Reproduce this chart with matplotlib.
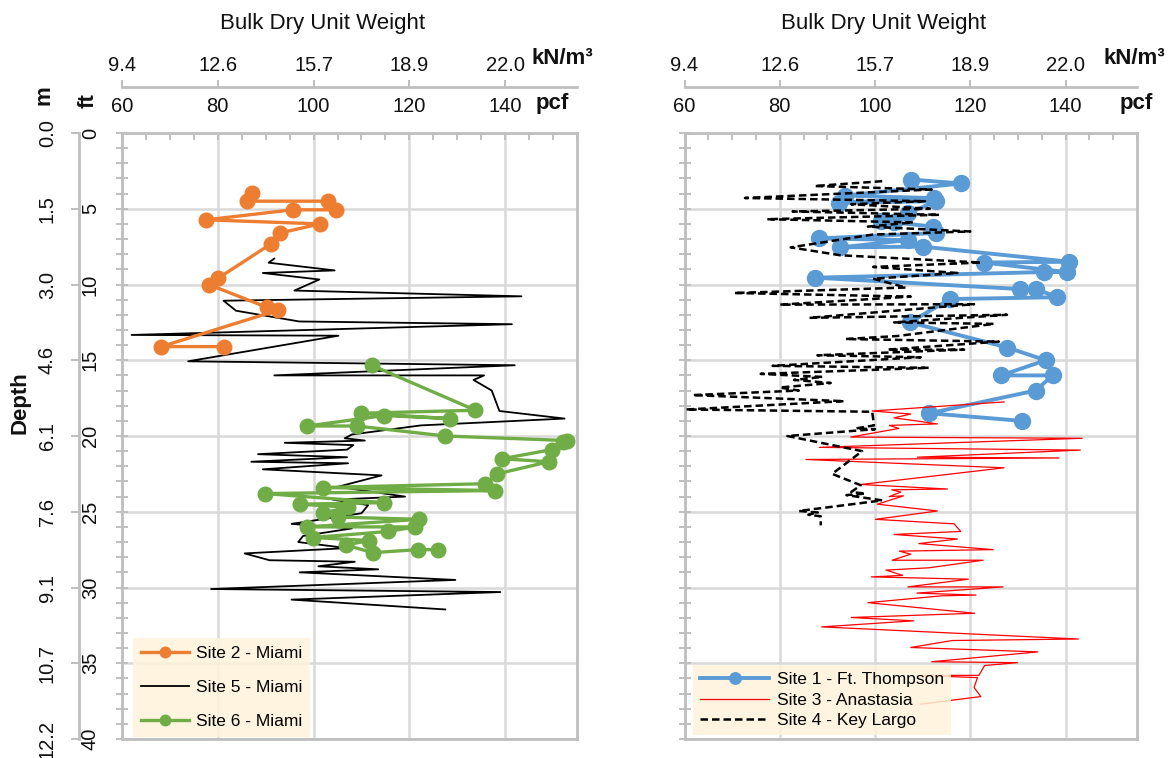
import matplotlib
matplotlib.use("Agg")
import matplotlib.pyplot as plt
from matplotlib.ticker import FixedLocator, MultipleLocator, NullLocator

# ---------------------------------------------------------------- data
pcf_ticks = [60, 80, 100, 120, 140]
kn_labels = ["9.4", "12.6", "15.7", "18.9", "22.0"]
ft_ticks = [0, 5, 10, 15, 20, 25, 30, 35, 40]
m_labels = ["0.0", "1.5", "3.0", "4.6", "6.1", "7.6", "9.1", "10.7", "12.2"]

# Site 2 - Miami (bulk dry unit weight in pcf vs depth in ft)
site2_pcf = [87.2, 86.1, 103.0, 104.6, 95.6, 77.6, 101.3, 93.0, 91.2, 80.0,
             78.1, 90.2, 92.5, 68.2, 81.4]
site2_ft = [3.96, 4.5, 4.5, 5.07, 5.07, 5.73, 6.0, 6.6, 7.3, 9.6,
            10.0, 11.5, 11.7, 14.1, 14.1]

# Site 5 - Miami
site5_pcf = [91.8, 90.6, 104.4, 89.4, 101.2, 96.0, 143.4, 81.2, 83.8, 97.0,
             141.4, 62.0, 105.2, 73.8, 142.0, 91.8, 135.6, 133.4, 137.2, 138.8,
             152.4, 122.4, 108.0, 106.5, 110.7, 94.0, 108.3, 107.0, 88.4, 107.0,
             87.0, 107.2, 89.4, 114.2, 105.1, 119.1, 104.0, 111.4, 110.0, 95.4,
             108.0, 97.8, 96.8, 107.0, 85.6, 90.8, 108.6, 101.0, 113.5, 97.1,
             129.6, 78.6, 139.0, 95.4, 127.5]
site5_ft = [8.29, 8.56, 9.07, 9.24, 9.67, 10.4, 10.78, 11.07, 11.73, 12.44,
            12.62, 13.33, 13.38, 15.07, 15.33, 16.0, 16.0, 16.3, 17.0, 18.35,
            18.85, 19.3, 19.9, 20.15, 20.3, 20.45, 20.6, 20.9, 21.2, 21.4,
            21.7, 21.8, 22.2, 22.6, 23.35, 24.0, 24.2, 24.56, 25.1, 25.8,
            26.1, 26.6, 27.0, 27.4, 27.75, 28.2, 28.3, 28.6, 28.8, 29.0,
            29.5, 30.1, 30.3, 30.8, 31.45]

# Site 6 - Miami
site6_pcf = [112.1, 133.8, 109.8, 128.4, 114.8, 98.7, 109.0, 127.5, 152.9, 152.1,
             149.7, 139.4, 149.1, 138.3, 135.7, 101.9, 137.8, 89.9, 114.8, 97.1,
             107.1, 101.9, 105.1, 122.0, 98.7, 121.2, 115.6, 99.9, 111.6, 106.7,
             112.4, 121.8, 125.9]
site6_ft = [15.33, 18.3, 18.5, 18.85, 18.65, 19.34, 19.34, 20.0, 20.3, 20.4,
            20.9, 21.5, 21.7, 22.5, 23.15, 23.4, 23.6, 23.8, 24.4, 24.5,
            24.7, 25.1, 25.35, 25.5, 26.0, 26.0, 26.3, 26.7, 26.9, 27.2,
            27.7, 27.5, 27.5]

# Site 1 - Ft. Thompson
site1_pcf = [107.5, 118.1, 93.7, 112.3, 92.5, 112.9, 106.9, 101.2, 104.0, 112.2,
             112.7, 88.2, 106.9, 92.7, 110.0, 140.8, 122.9, 140.2, 135.4, 87.5,
             130.4, 133.8, 138.3, 115.8, 107.3, 127.8, 135.8, 126.5, 137.3, 133.7,
             111.4, 130.8]
site1_ft = [3.07, 3.33, 4.13, 4.3, 4.6, 4.5, 5.3, 5.84, 5.9, 6.18,
            6.6, 6.96, 7.07, 7.55, 7.5, 8.5, 8.55, 9.18, 9.18, 9.55,
            10.3, 10.3, 10.84, 10.96, 12.5, 14.16, 15.0, 16.0, 16.0, 17.0,
            18.5, 19.0]

# Site 3 - Anastasia
site3_pcf = [127.1, 99.4, 107.5, 104.0, 113.1, 103.0, 105.0, 94.9, 143.5, 88.3,
             143.1, 108.9, 138.6, 85.5, 127.1, 97.0, 115.2, 103.5, 105.4, 103.0,
             106.0, 100.5, 113.1, 100.1, 116.6, 118.0, 104.0, 117.3, 109.2, 124.8,
             105.1, 107.5, 103.6, 122.7, 111.3, 102.3, 105.8, 99.2, 119.6, 106.9,
             126.9, 108.8, 121.2, 114.0, 98.5, 120.9, 95.0, 108.1, 88.8, 142.7,
             116.2, 107.5, 134.2, 111.9, 129.9, 123.0, 121.8, 109.6, 121.5, 120.8,
             122.2, 109.6]
site3_ft = [17.75, 18.35, 18.55, 18.8, 19.2, 19.3, 19.5, 20.07, 20.15, 20.75,
            20.93, 21.4, 21.45, 21.55, 22.1, 23.2, 23.5, 23.55, 23.7, 24.0,
            23.95, 24.5, 24.95, 25.5, 25.8, 26.3, 26.5, 26.8, 27.1, 27.5,
            27.6, 27.8, 28.2, 28.2, 28.7, 28.85, 29.2, 29.3, 29.45, 29.96,
            29.96, 30.37, 30.5, 30.55, 31.0, 31.7, 31.98, 32.2, 32.6, 33.4,
            33.5, 33.96, 34.25, 34.9, 34.96, 35.15, 35.8, 35.8, 35.95, 36.6,
            37.2, 37.7]

# Site 4 - Key Largo
site4_pcf = [101.5, 87.3, 111.9, 72.7, 110.5, 95.0, 111.5, 82.7, 113.5, 77.3,
             108.0, 98.5, 120.0, 99.6, 82.3, 92.7, 122.3, 99.6, 117.3, 99.6,
             106.5, 70.4, 107.5, 80.0, 120.8, 86.2, 127.7, 104.0, 125.0, 104.7,
             93.8, 126.0, 102.6, 118.7, 87.9, 109.6, 78.5, 111.3, 76.0, 89.0,
             83.0, 90.7, 80.0, 84.0, 61.7, 93.5, 60.3, 99.4, 99.8, 96.0,
             100.0, 81.6, 97.3, 91.0, 97.0, 95.0, 98.0, 94.0, 101.5, 84.0,
             88.0, 86.0, 88.6, 88.6]
site4_ft = [3.18, 3.5, 3.73, 4.29, 4.5, 4.7, 5.0, 5.18, 5.4, 5.69,
            5.9, 6.18, 6.5, 6.7, 7.55, 8.07, 8.55, 8.84, 9.24, 9.62,
            10.2, 10.56, 10.8, 11.33, 11.3, 12.2, 12.0, 12.5, 12.6, 13.4,
            13.6, 13.77, 14.3, 14.3, 14.67, 14.8, 15.37, 15.5, 15.9, 16.1,
            16.3, 16.5, 16.8, 17.0, 17.3, 17.7, 18.25, 18.4, 19.3, 19.5,
            19.55, 20.0, 21.0, 22.5, 23.25, 23.7, 23.8, 23.9, 24.25, 24.95,
            25.05, 25.2, 25.3, 25.9]

# ---------------------------------------------------------------- style
plt.rcParams['font.family'] = ['Liberation Sans', 'DejaVu Sans']

W, H = 1174, 758
fig = plt.figure(figsize=(W / 100, H / 100), dpi=100)


def fx(x):
    return x / W


def fy(y):
    return 1 - y / H


def axes_px(x0, x1, y0, y1):
    return fig.add_axes([fx(x0), fy(y1), (x1 - x0) / W, (y1 - y0) / H])


GRID = '#d9d9d9'
FRAME = '#bfbfbf'
TXT = '#111111'
LEG_BG = '#FEF3DA'
TICK_FS = 14.5

ORANGE = '#ED7D31'
GREEN = '#70AD47'
BLUE = '#5B9BD5'
RED = '#FF0000'

ax_l = axes_px(122, 577, 133, 739)
ax_r = axes_px(684.5, 1137, 133, 739)


def style_panel(ax, show_depth):
    ax.set_xlim(60, 155)
    ax.set_ylim(40, 0)
    ax.xaxis.set_major_locator(FixedLocator(pcf_ticks))
    ax.xaxis.set_minor_locator(MultipleLocator(5))
    ax.yaxis.set_major_locator(FixedLocator(ft_ticks))
    ax.yaxis.set_minor_locator(MultipleLocator(1))
    ax.grid(True, which='major', color=GRID, lw=1.8)
    ax.set_axisbelow(True)
    for s in ax.spines.values():
        s.set_color(FRAME)
        s.set_linewidth(2)
    ax.tick_params(axis='x', which='both', top=True, bottom=False,
                   labeltop=True, labelbottom=False, direction='in',
                   length=5, width=1.4, color=FRAME, pad=12,
                   labelsize=TICK_FS, labelcolor=TXT)
    ax.tick_params(axis='y', which='both', left=True, right=False,
                   direction='inout', length=8, width=1.4, color=FRAME,
                   pad=12, labelsize=TICK_FS, labelcolor=TXT,
                   labelleft=show_depth)
    if show_depth:
        ax.set_yticks(ft_ticks, labels=[str(t) for t in ft_ticks],
                      rotation=90, va='center')

    # kN/m3 scale above the pcf scale
    kn = ax.secondary_xaxis(1.0759, functions=(lambda v: v, lambda v: v))
    kn.set_xticks(pcf_ticks, labels=kn_labels)
    kn.xaxis.set_minor_locator(NullLocator())
    kn.spines['top'].set_color(FRAME)
    kn.spines['top'].set_linewidth(2)
    kn.tick_params(axis='x', direction='out', length=5, width=1.4,
                   color=FRAME, pad=4, labelsize=TICK_FS, labelcolor=TXT)

    if show_depth:
        sm = ax.secondary_yaxis(-0.0945, functions=(lambda v: v, lambda v: v))
        sm.set_yticks(ft_ticks, labels=m_labels, rotation=90, va='center')
        sm.yaxis.set_minor_locator(NullLocator())
        sm.spines['left'].set_color(FRAME)
        sm.spines['left'].set_linewidth(2)
        sm.tick_params(axis='y', direction='out', length=6, width=1.4,
                       color=FRAME, pad=10, labelsize=TICK_FS, labelcolor=TXT)


style_panel(ax_l, True)
style_panel(ax_r, False)

# ---------------------------------------------------------------- left panel
ax_l.plot(site2_pcf, site2_ft, color=ORANGE, lw=2.4, marker='o', ms=10.5,
          label='Site 2 - Miami', zorder=4)
ax_l.plot(site5_pcf, site5_ft, color='black', lw=1.3,
          label='Site 5 - Miami', zorder=3)
ax_l.plot(site6_pcf, site6_ft, color=GREEN, lw=2.4, marker='o', ms=10.5,
          label='Site 6 - Miami', zorder=5)

leg_l = ax_l.legend(loc='lower left', bbox_to_anchor=(fx(133), fy(737)),
                    bbox_transform=fig.transFigure, borderaxespad=0,
                    borderpad=0.45, handlelength=2.8, handletextpad=0.35,
                    labelspacing=1.1, markerscale=0.72, fontsize=12.5,
                    frameon=True, fancybox=False, facecolor=LEG_BG,
                    edgecolor='none', framealpha=0.85)

# ---------------------------------------------------------------- right panel
ax_r.plot(site1_pcf, site1_ft, color=BLUE, lw=2.8, marker='o', ms=11.5,
          label='Site 1 - Ft. Thompson', zorder=3)
ax_r.plot(site3_pcf, site3_ft, color=RED, lw=0.9,
          label='Site 3 - Anastasia', zorder=4)
ax_r.plot(site4_pcf, site4_ft, color='black', lw=1.8, ls=(0, (3, 1.6)),
          label='Site 4 - Key Largo', zorder=5)

leg_r = ax_r.legend(loc='lower left', bbox_to_anchor=(fx(693), fy(735)),
                    bbox_transform=fig.transFigure, borderaxespad=0,
                    borderpad=0.4, handlelength=4.0, handletextpad=0.45,
                    labelspacing=0.3, markerscale=0.72, fontsize=12.5,
                    frameon=True, fancybox=False, facecolor=LEG_BG,
                    edgecolor='none', framealpha=0.85)

# ---------------------------------------------------------------- labels
for cx, kx, px in ((323, 562, 552), (884, 1134, 1136)):
    fig.text(fx(cx), fy(23), 'Bulk Dry Unit Weight', ha='center', va='center',
             fontsize=16, color=TXT)
    fig.text(fx(kx), fy(59), 'kN/m³', ha='center', va='center',
             fontsize=16, fontweight='bold', color=TXT)
    fig.text(fx(px), fy(104), 'pcf', ha='center', va='center',
             fontsize=16, fontweight='bold', color=TXT)

fig.text(fx(44), fy(95), 'm', ha='center', va='center', rotation=90,
         fontsize=16, fontweight='bold', color=TXT)
fig.text(fx(88), fy(101), 'ft', ha='center', va='center', rotation=90,
         fontsize=16, fontweight='bold', color=TXT)
fig.text(fx(20), fy(403), 'Depth', ha='center', va='center', rotation=90,
         fontsize=16, fontweight='bold', color=TXT)

fig.savefig('out.png', dpi=100, facecolor='white')
